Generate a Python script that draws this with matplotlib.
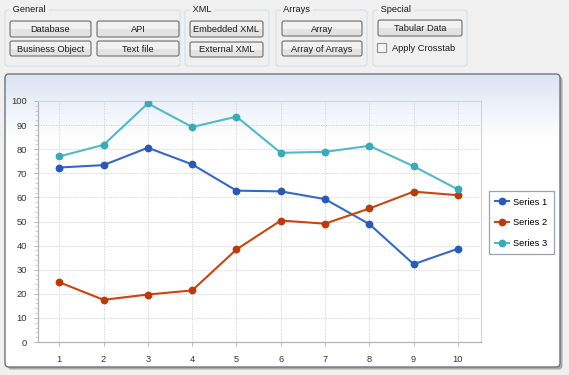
import numpy as np
import matplotlib
matplotlib.use("Agg")
import matplotlib.pyplot as plt
from matplotlib.patches import FancyBboxPatch, Rectangle
from matplotlib.ticker import MultipleLocator

# ---- data ----
categories = [1, 2, 3, 4, 5, 6, 7, 8, 9, 10]
series1 = [72.4, 73.4, 80.6, 73.7, 62.8, 62.5, 59.3, 48.9, 32.3, 38.7]
series2 = [24.8, 17.5, 19.7, 21.4, 38.4, 50.4, 49.1, 55.4, 62.4, 60.9]
series3 = [77.0, 81.8, 99.0, 89.2, 93.5, 78.5, 78.9, 81.4, 72.9, 63.3]
series_names = ["Series 1", "Series 2", "Series 3"]
y_ticks = [0, 10, 20, 30, 40, 50, 60, 70, 80, 90, 100]

line_colors = ["#3469c8", "#c9460f", "#4fbac8"]
marker_colors = ["#2659b8", "#bb3a06", "#3aa9b8"]

W, H = 569, 375
FONT = "Liberation Sans"
FS = 6.7
plt.rcParams['font.family'] = [FONT, 'DejaVu Sans']

fig = plt.figure(figsize=(W / 100, H / 100), dpi=100)
fig.patch.set_facecolor("#f0f0f0")

bg = fig.add_axes([0, 0, 1, 1])
bg.set_xlim(0, W)
bg.set_ylim(H, 0)
bg.axis("off")
bg.set_zorder(0)


def rrect(x0, y0, x1, y1, r, fc, ec, lw=0.8, z=1):
    p = FancyBboxPatch((x0 + r, y0 + r), (x1 - x0) - 2 * r, (y1 - y0) - 2 * r,
                       boxstyle="round,pad=%g" % r, fc=fc, ec=ec, lw=lw, zorder=z)
    bg.add_patch(p)
    return p


def button(x0, y0, x1, y1, label):
    rrect(x0, y0, x1, y1, 2, "#e2e2e2", "#707070", lw=0.8, z=3)
    bg.add_patch(Rectangle((x0 + 1.2, y0 + 1.2), x1 - x0 - 2.4, (y1 - y0) / 2 - 1,
                           fc="#f1f1f1", ec="none", zorder=3.5))
    bg.text((x0 + x1) / 2, (y0 + y1) / 2 + 0.5, label, ha="center", va="center",
            fontsize=FS, color="#1a1a1a", zorder=4)


def group(x0, y0, x1, y1, label):
    rrect(x0, y0, x1, y1, 3, "none", "#d5dfe5", lw=0.8, z=2)
    bg.text(x0 + 5, y0, " " + label + " ", ha="left", va="center", fontsize=FS,
            color="#1a1a1a", zorder=4,
            bbox=dict(fc="#f0f0f0", ec="none", pad=0.3))


# ---- toolbar ----
group(5, 10, 180, 66, "General")
group(185, 10, 269, 66, "XML")
group(276, 10, 367, 66, "Arrays")
group(373, 10, 467, 66, "Special")

button(10, 21, 91, 37, "Database")
button(97, 21, 179, 37, "API")
button(10, 41, 91, 56, "Business Object")
button(97, 41, 179, 56, "Text file")
button(190, 21, 263, 37, "Embedded XML")
button(190, 42, 263, 57, "External XML")
button(282, 21, 362, 36, "Array")
button(282, 41, 362, 56, "Array of Arrays")
button(378, 20, 462, 36, "Tabular Data")

bg.add_patch(Rectangle((377, 43), 9, 9, fc="#f4f4f4", ec="#8e8f8f", lw=0.8, zorder=3))
bg.text(392, 48.5, "Apply Crosstab", ha="left", va="center", fontsize=FS,
        color="#1a1a1a", zorder=4)

# ---- chart panel ----
px0, py0, px1, py1 = 5, 74, 560, 367
rrect(px0 + 2.5, py0 + 2.5, px1 + 2.5, py1 + 2.5, 4, "#a9a9a9", "none", z=1)
panel = rrect(px0, py0, px1, py1, 4, "white", "none", lw=1.0, z=2)
grad = np.linspace(0, 1, 256)
top = np.array([0xd9, 0xe3, 0xf3]) / 255.0
mid = np.array([0xee, 0xf2, 0xfa]) / 255.0
img = np.ones((256, 1, 3))
for i, t in enumerate(grad):
    if t < 0.5:
        c = top + (mid - top) * (t / 0.5)
    else:
        c = mid + (1 - mid) * ((t - 0.5) / 0.5)
    img[i, 0, :] = c
im = bg.imshow(img, extent=(px0, px1, 140, py0), aspect="auto", zorder=2.2,
               interpolation="bilinear")
im.set_clip_path(panel)
rrect(px0, py0, px1, py1, 4, "none", "#6e747a", lw=1.0, z=2.5)

# ---- chart axes ----
L, R, T, B = 38, 481, 101, 342
ax = fig.add_axes([L / W, (H - B) / H, (R - L) / W, (B - T) / H])
ax.set_zorder(5)
ax.patch.set_alpha(0)

all_series = [series1, series2, series3]
for vals, name, lc, mc in zip(all_series, series_names, line_colors, marker_colors):
    ax.plot(categories, vals, color=lc, lw=1.5, marker="o", markersize=4.6,
            markerfacecolor=mc, markeredgecolor=mc, label=name, zorder=3)

ax.set_xlim(0.52, 10.52)
ax.set_ylim(0, 100)
ax.set_xticks(categories)
ax.set_yticks(y_ticks)
ax.yaxis.set_minor_locator(MultipleLocator(2))
ax.grid(True, which="major", color="#cdcdcd", lw=0.6, ls=(0, (1.5, 1.5)))
ax.tick_params(axis="both", which="major", labelsize=FS, colors="#b8b8b8",
               labelcolor="#333333", length=3, width=0.7)
ax.tick_params(axis="y", which="minor", length=2, width=0.6, colors="#c8c8c8")
ax.tick_params(axis="x", pad=6)
ax.tick_params(axis="y", pad=5)
for s in ["left", "bottom"]:
    ax.spines[s].set_color("#b4b4b4")
    ax.spines[s].set_linewidth(0.9)
for s in ["top", "right"]:
    ax.spines[s].set_color("#d0d4d9")
    ax.spines[s].set_linewidth(0.8)

leg = fig.legend(loc="upper left", bbox_to_anchor=(488.5 / W, 1 - 191 / H),
                 fontsize=FS, frameon=True, fancybox=False, edgecolor="#9aa4ae",
                 handlelength=1.5, handletextpad=0.45, borderpad=0.7,
                 labelspacing=1.25, borderaxespad=0, framealpha=1)
leg.get_frame().set_linewidth(0.9)
leg.set_zorder(6)

fig.savefig("out.png", dpi=100, facecolor=fig.get_facecolor())
